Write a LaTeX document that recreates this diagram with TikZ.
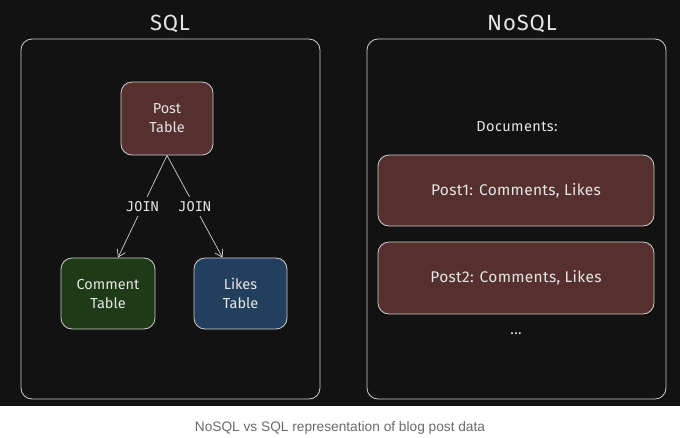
\documentclass[tikz,border=0pt]{standalone}
\usepackage{fontspec}
\setmainfont{Fira Sans}
\newfontfamily\capfont{Liberation Sans}
\newfontfamily\monofont{DejaVu Sans Mono}
\usetikzlibrary{arrows.meta}
\definecolor{bgdark}{HTML}{121212}
\definecolor{strokec}{HTML}{CFCFCF}
\definecolor{txtc}{HTML}{E6E6E6}
\definecolor{postfill}{HTML}{55302F}
\definecolor{greenfill}{HTML}{1E3A16}
\definecolor{bluefill}{HTML}{223F5E}
\definecolor{capgray}{HTML}{6B6B6B}
\tikzset{
  frame/.style={draw=strokec, line width=0.8pt, rounded corners=11pt},
  tbox/.style={draw=strokec, line width=0.8pt, rounded corners=11pt, inner sep=0pt,
    text=txtc, font=\fontsize{14.5}{19}\selectfont, align=center},
  dbox/.style={tbox, font=\fontsize{15.5}{19}\selectfont\addfontfeatures{LetterSpace=2}},
  title/.style={text=txtc, font=\fontsize{22}{26}\selectfont\addfontfeatures{LetterSpace=4}},
  plain/.style={text=txtc, font=\fontsize{14.5}{16}\selectfont\addfontfeatures{LetterSpace=3}},
  conn/.style={draw=strokec, line width=0.7pt, -{Straight Barb[length=7pt,width=9pt]}},
  lbl/.style={fill=bgdark, text=txtc, font=\monofont\fontsize{13.5}{15}\selectfont, inner xsep=1pt, inner ysep=4pt}
}
\begin{document}
\begin{tikzpicture}[x=1pt,y=-1pt]
\useasboundingbox (0,0) rectangle (680,437);
\fill[white] (0,0) rectangle (680,437);
\fill[bgdark] (0,0) rectangle (680,406);
% titles
\node[title] (sqlt) at (170,24) {SQL};
\node[title] (nosqlt) at (522,24) {NoSQL};
% frames
\draw[frame] (21,39) rectangle (320,399);
\draw[frame] (367,39) rectangle (666,399);
% SQL tables
\node[tbox, fill=postfill, minimum width=92pt, minimum height=73pt] (post) at (167,118.5) {Post\\Table};
\node[tbox, fill=greenfill, minimum width=94pt, minimum height=71pt] (comment) at (108,293.5) {Comment\\Table};
\node[tbox, fill=bluefill, minimum width=93pt, minimum height=71pt] (likes) at (240.5,293.5) {Likes\\Table};
\draw[conn] (post.south) -- node[lbl]{JOIN} ([xshift=10pt]comment.north);
\draw[conn] (post.south) -- node[lbl]{JOIN} ([xshift=-18pt]likes.north);
% NoSQL
\node[plain] (docs) at (517,127) {Documents:};
\node[dbox, fill=postfill, minimum width=276pt, minimum height=71pt] (p1) at (516,190.5) {Post1: Comments, Likes};
\node[dbox, fill=postfill, minimum width=276pt, minimum height=72pt] (p2) at (516,278) {Post2: Comments, Likes};
\node[plain] (dots) at (516,334) {...};
% caption
\node[text=capgray, font=\capfont\fontsize{13.7}{16}\selectfont] (cap) at (340,428) {NoSQL vs SQL representation of blog post data};
\end{tikzpicture}
\end{document}
